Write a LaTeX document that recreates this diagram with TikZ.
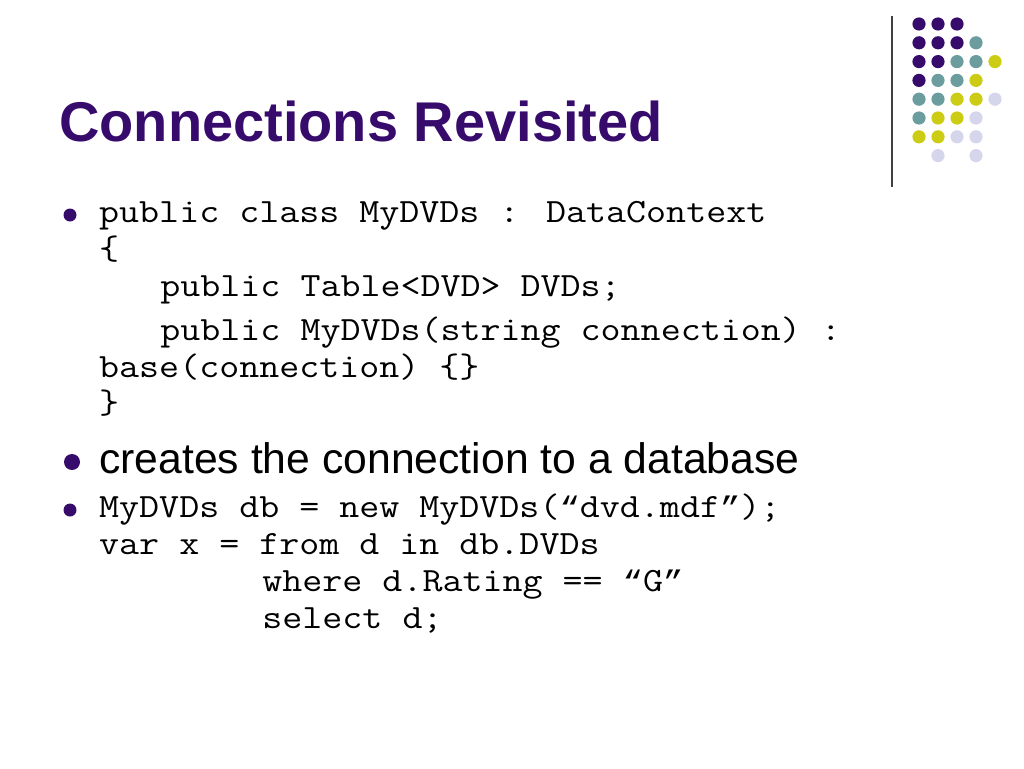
\documentclass[tikz,border=0pt]{standalone}
\usepackage{fontspec}
\setmainfont{Liberation Sans}
\newfontfamily\quotemono{Liberation Mono}
\usepackage{xcolor}
\usepackage{tikz}
\usetikzlibrary{positioning}

\definecolor{slidepurple}{RGB}{55,11,108}
\definecolor{slideteal}{RGB}{107,157,158}
\definecolor{slideyellow}{RGB}{204,204,20}
\definecolor{slidelilac}{RGB}{213,213,235}

\tikzset{
  title/.style={anchor=base west, inner sep=0pt, text=slidepurple, font=\fontsize{56}{60}\selectfont\bfseries},
  code/.style={anchor=base west, inner sep=0pt, font=\fontsize{34}{40}\selectfont\ttfamily},
  body/.style={anchor=base west, inner sep=0pt, font=\fontsize{42.7}{48}\selectfont},
  bullet/.style={circle, fill=slidepurple, inner sep=0pt, minimum size=13pt},
  bigbullet/.style={circle, fill=slidepurple, inner sep=0pt, minimum size=16pt},
}

\newcommand{\cw}{20.4}
\newcommand{\codeline}[1]{\scalebox{1.143}[1]{#1}}
\newcommand{\openq}{{\fontsize{29.75}{40}\quotemono “}}
\newcommand{\closeq}{{\fontsize{29.75}{40}\quotemono ”}}

\begin{document}
\begin{tikzpicture}[x=1pt, y=-1pt]
\useasboundingbox (0,0) rectangle (1024,768);

% decoration top right
\draw[line width=1.5pt, black!75] (892,16) -- (892,187);
\foreach \c/\r/\col in {1/1/slidepurple, 2/1/slidepurple, 3/1/slidepurple,
    1/2/slidepurple, 2/2/slidepurple, 3/2/slidepurple, 4/2/slideteal,
    1/3/slidepurple, 2/3/slidepurple, 3/3/slideteal, 4/3/slideteal, 5/3/slideyellow,
    1/4/slidepurple, 2/4/slideteal, 3/4/slideteal, 4/4/slideyellow,
    1/5/slideteal, 2/5/slideteal, 3/5/slideyellow, 4/5/slideyellow, 5/5/slidelilac,
    1/6/slideteal, 2/6/slideyellow, 3/6/slideyellow, 4/6/slidelilac,
    1/7/slideyellow, 2/7/slideyellow, 3/7/slidelilac, 4/7/slidelilac,
    2/8/slidelilac, 4/8/slidelilac}
  \fill[\col] ({900+19*\c},{5.2+18.8*\r}) circle (6.6);

\node[title] (head) at (59,141) {Connections Revisited};

% first bullet: class
\node[bullet] (b1) at (70,215) {};
\node[code] (l1) at (99,222) {\codeline{public class MyDVDs : DataContext}};
\node[code] (l2) at (99,259) {\codeline{\{}};
\node[code] (l3) at (99+3*\cw,296) {\codeline{public Table<DVD> DVDs;}};
\node[code] (l4) at (99+3*\cw,340) {\codeline{public MyDVDs(string connection) :}};
\node[code] (l5) at (99,377) {\codeline{base(connection) \{\}}};
\node[code] (l6) at (99,413) {\codeline{\}}};

% second bullet
\node[bigbullet] (b2) at (72,462) {};
\node[body] (l7) at (99,473) {creates the connection to a database};

% third bullet: query
\node[bullet] (b3) at (70,510) {};
\node[code] (l8) at (99,517) {\codeline{MyDVDs db = new MyDVDs(\openq dvd.mdf\closeq);}};
\node[code] (l9) at (99,554) {\codeline{var x = from d in db.DVDs}};
\node[code] (l10) at (99+8*\cw,591) {\codeline{where d.Rating == \openq G\closeq}};
\node[code] (l11) at (99+8*\cw,628) {\codeline{select d;}};
\end{tikzpicture}
\end{document}
